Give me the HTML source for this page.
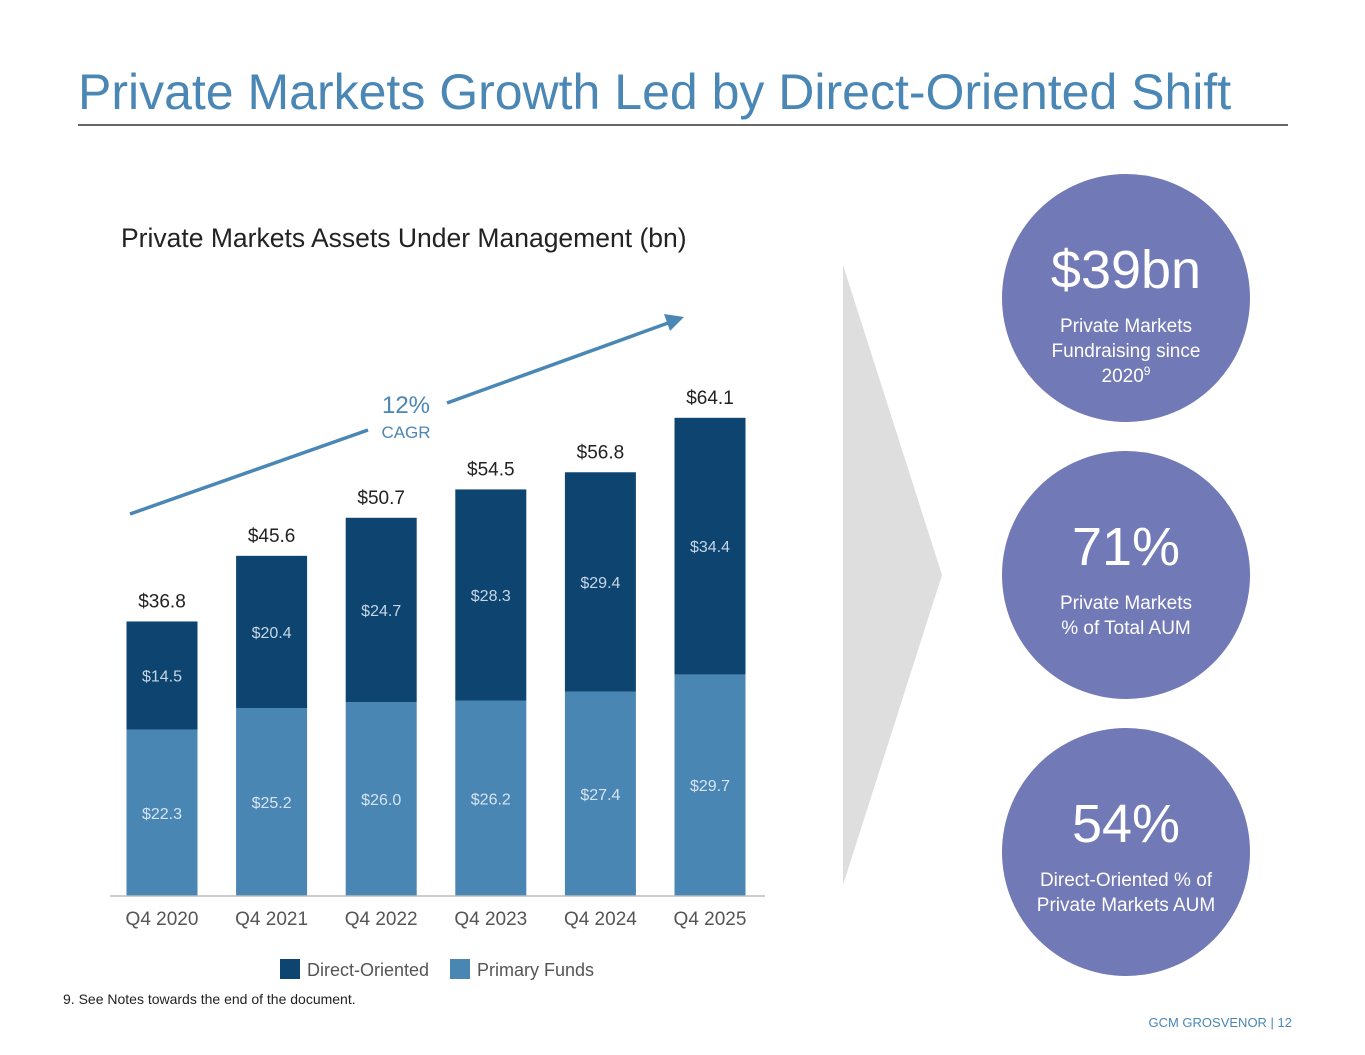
<!DOCTYPE html>
<html><head><meta charset="utf-8"><style>
body{margin:0;background:#fff;font-family:"Liberation Sans",sans-serif;}
svg{display:block}
</style></head><body>
<svg width="1365" height="1055" viewBox="0 0 1365 1055">
<text x="78" y="109" font-size="50" fill="#4b87b5">Private Markets Growth Led by Direct-Oriented Shift</text>
<line x1="78" y1="125" x2="1288" y2="125" stroke="#333" stroke-width="1.5"/>
<text x="121" y="247" font-size="26.5" fill="#222">Private Markets Assets Under Management (bn)</text>
<g id="chart"></g>
<line x1="130" y1="514" x2="368" y2="430" stroke="#4b87b5" stroke-width="3.5"/>
<line x1="447" y1="403" x2="668" y2="323" stroke="#4b87b5" stroke-width="3.5"/>
<polygon points="684,317 664,314 670,331" fill="#4b87b5"/>
<text x="406" y="413" font-size="24" fill="#4b87b5" text-anchor="middle">12%</text>
<text x="406" y="438" font-size="17" fill="#4b87b5" text-anchor="middle">CAGR</text>
<rect x="280" y="959" width="20" height="20" fill="#0d4470"/>
<text x="307" y="976" font-size="18" fill="#555">Direct-Oriented</text>
<rect x="450" y="959" width="20" height="20" fill="#4a86b4"/>
<text x="477" y="976" font-size="18" fill="#555">Primary Funds</text>
<text x="63" y="1004" font-size="14" fill="#222">9. See Notes towards the end of the document.</text>
<polygon points="843,265 942,575 843,885" fill="#dedede"/>
<g>
<circle cx="1126" cy="298" r="124" fill="#7179b6"/>
<text x="1126" y="288" font-size="54" fill="#fff" text-anchor="middle">$39bn</text>
<text x="1126" y="332" font-size="19" fill="#fff" text-anchor="middle">Private Markets</text>
<text x="1126" y="357" font-size="19" fill="#fff" text-anchor="middle">Fundraising since</text>
<text x="1126" y="382" font-size="19" fill="#fff" text-anchor="middle">2020<tspan font-size="12" dy="-7">9</tspan></text>
</g>
<g>
<circle cx="1126" cy="575" r="124" fill="#7179b6"/>
<text x="1126" y="565" font-size="54" fill="#fff" text-anchor="middle">71%</text>
<text x="1126" y="609" font-size="19" fill="#fff" text-anchor="middle">Private Markets</text>
<text x="1126" y="634" font-size="19" fill="#fff" text-anchor="middle">% of Total AUM</text>
</g>
<g>
<circle cx="1126" cy="852" r="124" fill="#7179b6"/>
<text x="1126" y="842" font-size="54" fill="#fff" text-anchor="middle">54%</text>
<text x="1126" y="886" font-size="19" fill="#fff" text-anchor="middle">Direct-Oriented % of</text>
<text x="1126" y="911" font-size="19" fill="#fff" text-anchor="middle">Private Markets AUM</text>
</g>
<text x="1292" y="1027" font-size="13" fill="#4b87b5" text-anchor="end">GCM GROSVENOR | 12</text>
</svg>
<script>
const categories=["Q4 2020","Q4 2021","Q4 2022","Q4 2023","Q4 2024","Q4 2025"];
const primary=[22.3,25.2,26.0,26.2,27.4,29.7];
const direct=[14.5,20.4,24.7,28.3,29.4,34.4];
const totals=[36.8,45.6,50.7,54.5,56.8,64.1];
const NS="http://www.w3.org/2000/svg";
const g=document.getElementById("chart");
const base=896,scale=7.46,x0=162,step=109.6,bw=71;
const y=v=>base-v*scale, xc=i=>x0+i*step;
function mk(t,a,txt){const e=document.createElementNS(NS,t);for(const k in a)e.setAttribute(k,a[k]);if(txt!=null)e.textContent=txt;g.appendChild(e);return e;}
categories.forEach((c,i)=>{
 const p=primary[i],d=direct[i];
 let r=mk("rect",{x:xc(i)-bw/2,y:y(p),width:bw,height:p*scale,fill:"#4a86b4"});
 
 
 r=mk("rect",{x:xc(i)-bw/2,y:y(p+d),width:bw,height:d*scale,fill:"#0d4470"});
 
 
 let t=mk("text",{x:xc(i),y:(y(0)+y(p))/2+6,"font-size":16,fill:"#d6e4f0","text-anchor":"middle"},"$"+p.toFixed(1));
 
 
 t=mk("text",{x:xc(i),y:(y(p)+y(p+d))/2+6,"font-size":16,fill:"#c7d6e6","text-anchor":"middle"},"$"+d.toFixed(1));
 
 
 t=mk("text",{x:xc(i),y:y(totals[i])-14,"font-size":19,fill:"#222","text-anchor":"middle"},"$"+totals[i].toFixed(1));
 
 
 t=mk("text",{x:xc(i),y:925,"font-size":19,fill:"#555","text-anchor":"middle"},c);
 
 
});
const ax=mk("line",{x1:110,y1:base,x2:765,y2:base,stroke:"#bbb","stroke-width":1.5});


</script>
</body></html>
